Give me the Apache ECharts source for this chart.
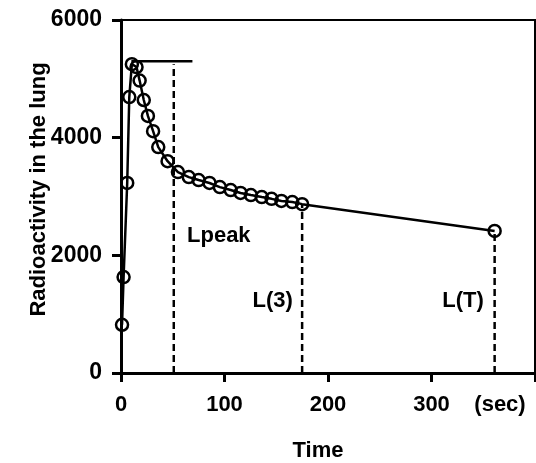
<!DOCTYPE html>
<html><head><meta charset="utf-8">
<script src="https://cdn.jsdelivr.net/npm/echarts@6/dist/echarts.min.js"></script>
<style>html,body{margin:0;padding:0;background:#fff}#c{width:536px;height:463px}</style>
</head><body><div id="c"></div>
<script>
// Measured curve (time in seconds, radioactivity counts)
const timeSec = [1, 2.5, 6, 8, 10.5, 15, 18, 22, 26, 31, 36, 45, 55, 65.5, 75, 85.5, 95.5, 106, 115.5, 125.5, 136, 145.5, 155, 165.5, 175, 361];
const activity = [820, 1630, 3230, 4690, 5250, 5200, 4970, 4640, 4370, 4110, 3840, 3600, 3415, 3330, 3280, 3230, 3160, 3110, 3060, 3025, 2990, 2960, 2925, 2905, 2870, 2415];
// Peak level line
const peakLineX = [10, 69];
const peakLineY = [5300, 5300];
// Vertical dashed drop lines
const dropX = [51, 175, 361];
const dropTop = [5250, 2870, 2415];
// Annotation labels
const annotText = ['Lpeak', 'L(3)', 'L(T)'];
const annotX = [94.5, 146.5, 330.5];
const annotY = [2330, 1230, 1230];
// Axis tick labels
const xTickValues = [0, 100, 200, 300, 400];
const xTickLabels = ['0', '100', '200', '300', '(sec)'];
const yTickValues = [0, 2000, 4000, 6000];
const yTickLabels = ['0', '2000', '4000', '6000'];

const FONT = "'Liberation Sans', Arial, Helvetica, sans-serif";
const chart = echarts.init(document.getElementById('c'));

const series = [];
series.push({
  type: 'line',
  data: peakLineX.map((x, i) => [x, peakLineY[i]]),
  symbol: 'none',
  lineStyle: { color: '#000', width: 2.5 },
  z: 3
});
dropX.forEach((x, i) => {
  series.push({
    type: 'line',
    data: [[x, 0], [x, dropTop[i]]],
    symbol: 'none',
    lineStyle: { color: '#000', width: 2.5, type: [7, 4] },
    z: 3
  });
});
series.push({
  type: 'line',
  data: timeSec.map((t, i) => [t, activity[i]]),
  symbol: 'circle',
  symbolSize: 12,
  itemStyle: { color: 'rgba(0,0,0,0)', borderColor: '#000', borderWidth: 2.5 },
  lineStyle: { color: '#000', width: 2.5 },
  z: 5
});
series.push({
  type: 'scatter',
  symbolSize: 0,
  itemStyle: { opacity: 1, color: '#000' },
  data: annotText.map((s, i) => ({ name: s, value: [annotX[i], annotY[i]] })),
  label: {
    show: true, position: 'inside', formatter: '{b}', opacity: 1,
    color: '#000', fontSize: 22, fontWeight: 'bold', fontFamily: FONT
  },
  z: 6
});

chart.setOption({
  animation: false,
  backgroundColor: '#fff',
  grid: {
    left: 121, right: 1, top: 20, bottom: 90, containLabel: false, outerBoundsMode: 'none',
    show: true, borderColor: '#000', borderWidth: 2
  },
  xAxis: {
    type: 'value', min: 0, max: 400, interval: 100,
    name: 'Time', nameLocation: 'middle', nameGap: 67, nameMoveOverlap: false,
    nameTextStyle: { color: '#000', fontSize: 22, fontWeight: 'bold', fontFamily: FONT, padding: [0, 20, 0, 0] },
    axisLine: { lineStyle: { color: '#000', width: 3 } },
    axisTick: { length: 9, lineStyle: { color: '#000', width: 3 } },
    splitLine: { show: false },
    axisLabel: {
      margin: 21, color: '#000', fontSize: 22, fontWeight: 'bold', fontFamily: FONT,
      showMaxLabel: true,
      formatter: v => {
        const k = xTickValues.indexOf(v);
        const s = k >= 0 ? xTickLabels[k] : String(v);
        return v === 400 ? '{sec|' + s + '}' : s;
      },
      rich: { sec: { color: '#000', fontSize: 22, fontWeight: 'bold', fontFamily: FONT, padding: [0, 70, 0, 0] } }
    }
  },
  yAxis: {
    type: 'value', min: yTickValues[0], max: yTickValues[yTickValues.length - 1], interval: 2000,
    name: 'Radioactivity in the lung', nameLocation: 'middle', nameGap: 71, nameMoveOverlap: false,
    nameTextStyle: { color: '#000', fontSize: 22, fontWeight: 'bold', fontFamily: FONT, padding: [0, 0, 0, 14] },
    axisLine: { lineStyle: { color: '#000', width: 3 } },
    axisTick: { length: 9, lineStyle: { color: '#000', width: 3 } },
    splitLine: { show: false },
    axisLabel: {
      margin: 19, color: '#000', fontSize: 23, fontWeight: 'bold', fontFamily: FONT,
      formatter: v => {
        const k = yTickValues.indexOf(v);
        return k >= 0 ? yTickLabels[k] : String(v);
      }
    }
  },
  series: series
});
</script>
</body></html>
